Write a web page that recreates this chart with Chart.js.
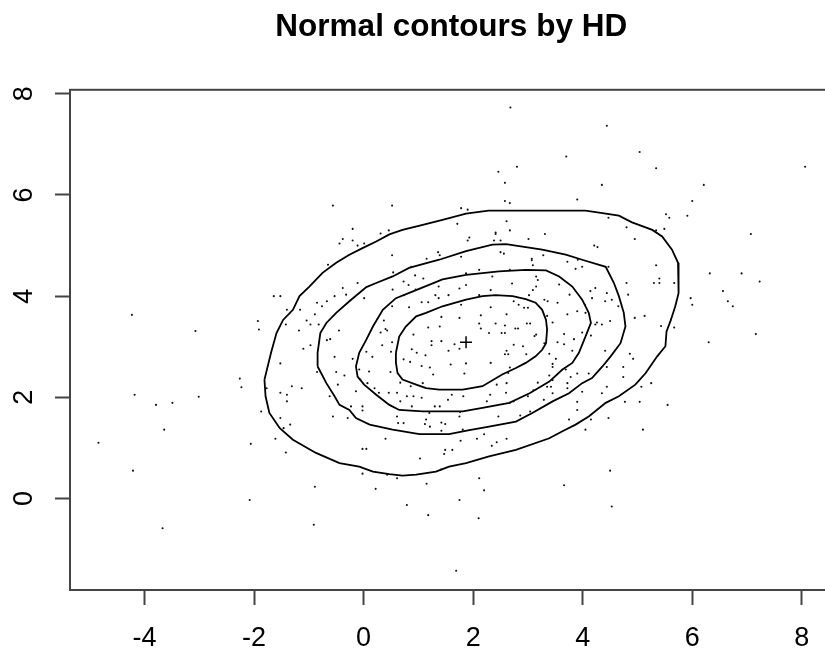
<!DOCTYPE html>
<html>
<head>
<meta charset="utf-8">
<script src="https://cdn.jsdelivr.net/npm/chart.js@4"></script>
<style>
  html, body { margin: 0; padding: 0; background: #fff; overflow: hidden; }
  #wrap { width: 840px; height: 653px; }
</style>
</head>
<body>
<div id="wrap"><canvas id="hd_chart" width="840" height="653"></canvas></div>
<script>
// sample points
const ptX = [
  -4.23, -3.07, -1.93, -1.91, -2.26, -2.23, -4.18, -3.79, -3.49, -3.01, -3.64, -4.84, -2.06, -4.21, -2.08, -3.67,
  -0.89, 0.22, 1.15, 2.20, 3.66, 0.79, 1.75, 1.18, 2.10, 4.53, -0.91, 1.69,
  2.68, 3.70, 2.80, 2.46,
  4.44, 5.04, 5.34, 8.06, 4.35, 6.21, 6.00, 5.52, 5.58, 5.91, 4.47, 4.80, 4.95, 5.34, 5.49, 7.07, 4.50,
  3.72, 3.99, 3.87, 3.91, 4.47, 5.34, 5.40, 5.30, 5.40, 5.67, 6.32, 6.90, 7.23, 6.56, 6.65, 6.74, 5.97, 6.00,
  7.16, 6.30, 4.80, 4.83, 4.95, 5.13, 5.43, 5.61, 5.67, 3.57, 3.76, 4.14, 4.23, 4.17, 4.44, 4.41, 4.53, 4.65,
  3.30, 3.36, 3.54, 4.04, 3.90, 3.72, 4.05, 3.35, 3.45, 4.26, 4.23, 4.35, 4.50, 3.66, 3.99, 4.15, 3.84, 3.54,
  3.66, 3.81, 3.39, 3.51, 3.45, 3.45, 4.41, 4.86, 4.92, 4.44, 4.74, 4.11, 3.90, 3.78, 3.39, 4.74, 3.72, 3.72,
  3.45, 3.35, 3.42, 3.45, 3.29, 3.99, 4.35, 4.44, 5.07, 5.25, 3.90, 3.90, 4.77, 5.04, 5.55, 3.75, 4.15, 4.47,
  4.05, 5.10,
  2.58, 2.58, 2.67, 3.90, 1.78, 1.90, 2.61, 1.71, 2.41, 2.41, 2.67, 3.31, 1.93, 1.90, 3.01, 2.38, 2.50, 4.21,
  4.27, 1.36, 1.39, 1.78, 2.50, 2.56, 3.28, 1.15, 3.07, 3.07, 3.09, 0.87, 2.11, 2.67, 0.73, 0.94, 1.09, 1.87,
  2.35, 3.15, 3.18, 3.15, 3.09, 0.82, 0.95, 1.37, 1.75, 1.87, 2.32, 2.71, 3.02, 1.31, 1.37, 1.55, 2.11, 0.74,
  0.83, 1.06, 1.18, 1.78, 2.32, 2.74, 2.83, 2.93, 3.00, 2.14, 1.42, 1.75, 2.61, 2.11, 2.41, 2.58, 2.98, 3.04,
  1.39, 1.18, 2.14, 2.77, 2.82, 0.91, 2.29, 2.52, 2.58, 3.15, 3.12, 1.24, 1.24, 1.42, 1.66, 2.74, 2.91, 3.30,
  0.88, 0.97, 1.13, 1.55, 1.75, 2.61, 2.58, 2.64, 2.97, 0.73, 0.85, 1.06, 1.21, 1.59, 1.87, 2.32, 2.67, 3.69,
  1.27, 1.84, 2.64,
  -0.56, 0.52, -0.20, 0.31, 0.46, -0.38, -0.44, -0.20, -0.11, 0.01, 0.52, -0.65, -0.11, -0.38, -0.32, -0.53,
  0.01, 0.53, 0.54, -1.64, -1.52, -1.40, -1.16, -0.85, -0.76, -0.67, -0.89, -1.04, -0.97, -0.82, -1.42, -1.18,
  -0.45, 0.52, 0.37, 0.40, 0.43, 0.31, -0.61, -0.67, -0.97, -1.10, -1.52, -0.53, -0.20, 0.05, 0.16, 0.34,
  0.50, 0.52, -0.08, 0.10, 0.49, -0.85, -0.50, -0.35,
  -1.77, -1.52, -1.40, -1.40, -1.31, -1.13, -1.87, -1.52, -1.34, -1.46, -1.61, -1.42, -0.62, -0.47, -0.56, -0.29,
  -0.23, -0.02, -0.02, -0.14, -0.06, -0.02, 0.05, -0.02, 0.07, 0.20, 0.28, 0.46, 0.61, 0.40, 0.43, 0.61,
  0.61, 0.63, 0.73, 0.67, 0.79, 0.91, 0.88, 1.06, 1.03, 1.14, 1.12, 1.21, 1.42, 1.49, 1.42, 1.20,
  1.30, 1.39, 1.54, 1.61, 1.49, 1.62, 1.47, 1.41, 1.75, 1.76, 1.77, 2.07, 2.11, 2.20, 2.34, 2.43,
  2.46, 2.25, 2.31, 2.43, 2.60, 2.67, 2.74, 2.61, 2.61, 3.04, 2.86, 3.00, 3.10, 3.18, 1.81, 1.82,
  0.86, 0.67, 1.08
];
const ptY = [
  3.63, 3.31, 3.51, 3.34, 2.37, 2.20, 2.05, 1.85, 1.89, 2.01, 1.36, 1.10, 1.08, 0.55, -0.03, -0.59,
  0.23, 0.19, 0.29, 0.16, 0.26, -0.13, -0.03, -0.33, -0.39, -0.16, -0.52, -1.43,
  7.73, 6.76, 6.56, 6.46,
  7.37, 6.85, 6.53, 6.56, 6.20, 6.20, 5.88, 5.62, 5.55, 5.59, 5.55, 5.36, 5.13, 5.30, 5.33, 5.23, 0.55,
  4.68, 4.58, 4.54, 4.72, 4.58, 4.61, 4.35, 4.26, 4.26, 4.26, 4.45, 4.45, 4.29, 4.10, 3.90, 3.80, 3.96, 3.83,
  3.25, 3.09, 4.26, 4.03, 3.57, 3.61, 3.41, 3.54, 3.38, 4.23, 4.03, 4.10, 4.16, 3.96, 4.06, 3.90, 3.93, 3.80,
  3.93, 3.90, 3.87, 3.83, 3.70, 3.64, 3.67, 3.61, 3.48, 3.48, 3.44, 3.44, 3.51, 3.25, 3.28, 3.22, 3.15, 3.09,
  3.05, 2.92, 2.86, 2.76, 2.66, 2.60, 2.92, 2.86, 2.76, 2.60, 2.60, 2.47, 2.47, 2.40, 2.43, 2.40, 2.28, 2.18,
  2.34, 2.21, 2.21, 2.08, 1.95, 2.11, 2.08, 2.21, 2.21, 2.28, 1.91, 1.75, 1.91, 1.91, 1.85, 1.56, 1.56, 1.59,
  1.36, 1.36,
  6.24, 5.88, 5.84, 5.91, 5.74, 5.71, 5.48, 5.43, 5.26, 5.23, 5.30, 5.23, 5.16, 5.10, 5.13, 5.10, 5.10, 5.00,
  4.97, 4.87, 4.81, 4.78, 4.87, 4.84, 4.81, 4.74, 4.74, 4.71, 4.61, 4.58, 4.52, 4.52, 4.29, 4.41, 4.35, 4.45,
  4.39, 4.39, 4.32, 4.19, 4.12, 4.22, 4.13, 4.19, 4.15, 4.22, 4.12, 4.25, 4.02, 4.02, 3.96, 4.02, 4.02, 4.02,
  3.78, 3.88, 3.88, 3.83, 3.78, 3.90, 3.83, 3.77, 3.77, 3.62, 3.59, 3.57, 3.64, 3.46, 3.46, 3.42, 3.46, 3.46,
  3.40, 3.38, 3.36, 3.36, 3.36, 3.24, 3.27, 3.27, 3.27, 3.24, 3.21, 3.11, 3.03, 3.11, 3.05, 3.04, 3.01, 3.07,
  2.95, 2.88, 2.83, 2.92, 2.96, 2.92, 2.85, 2.85, 2.85, 2.75, 2.70, 2.62, 2.59, 2.65, 2.67, 2.68, 2.59, 2.55,
  2.45, 2.47, 2.48,
  5.79, 5.79, 5.33, 5.24, 5.30, 5.13, 5.04, 5.10, 5.00, 5.04, 4.81, 4.62, 4.26, 4.16, 4.03, 4.00,
  3.96, 4.13, 4.47, 4.00, 4.00, 3.73, 3.73, 3.87, 3.80, 3.90, 3.64, 3.52, 3.44, 3.44, 3.44, 3.32,
  3.32, 3.80, 3.52, 3.35, 3.32, 3.28, 3.15, 3.13, 3.03, 2.96, 2.67, 2.80, 2.76, 2.90, 2.80, 3.03,
  2.90, 3.09, 2.55, 2.51, 2.50, 2.50, 2.50, 2.43,
  2.18, 2.09, 2.05, 1.92, 2.22, 2.18, 1.72, 1.59, 1.46, 1.39, 1.18, 0.91, 2.02, 2.25, 1.62, 1.59,
  1.82, 1.82, 1.74, 2.12, 2.35, 0.98, 0.98, 0.49, 2.28, 2.18, 2.09, 2.09, 2.09, 1.18, 0.47, 0.40,
  1.62, 1.49, 1.49, 1.92, 2.02, 2.02, 1.82, 1.99, 0.79, 1.56, 1.47, 1.42, 1.50, 1.47, 1.34, 1.69,
  1.82, 1.82, 1.95, 2.05, 0.96, 0.96, 0.88, 0.57, 1.62, 1.71, 1.14, 1.18, 0.40, 1.27, 1.04, 1.11,
  1.62, 1.92, 2.05, 2.25, 2.09, 1.89, 1.92, 2.28, 1.18, 1.72, 1.64, 2.02, 2.14, 2.29, 1.36, 2.02,
  2.22, 2.29, 2.28
];

// density contour lines, innermost first
const c1x = [0.59, 0.65, 0.77, 0.96, 1.14, 1.44, 1.87, 2.17, 2.41, 2.72, 2.96, 3.14, 3.26, 3.33, 3.35, 3.33,
  3.26, 3.14, 2.96, 2.78, 2.53, 2.17, 1.81, 1.38, 1.14, 0.96, 0.71, 0.62, 0.59];
const c1y = [2.88, 3.20, 3.40, 3.60, 3.67, 3.80, 3.93, 4.00, 4.02, 4.00, 3.94, 3.87, 3.73, 3.53, 3.34, 3.07,
  2.94, 2.81, 2.68, 2.58, 2.45, 2.22, 2.15, 2.15, 2.18, 2.25, 2.35, 2.48, 2.68];

const c2x = [-0.14, -0.08, 0.05, 0.17, 0.35, 0.59, 0.89, 1.44, 1.87, 2.47, 2.96, 3.33, 3.57, 3.81, 3.99, 4.11,
  4.15, 4.05, 3.93, 3.81, 3.63, 3.39, 3.03, 2.66, 2.17, 1.81, 1.08, 0.65, 0.47, 0.23, 0.01, -0.11];
const c2y = [2.61, 2.88, 3.14, 3.40, 3.73, 3.96, 4.09, 4.33, 4.42, 4.49, 4.52, 4.51, 4.39, 4.19, 3.93, 3.67,
  3.47, 3.20, 2.88, 2.68, 2.55, 2.31, 2.08, 1.89, 1.79, 1.72, 1.72, 1.75, 1.85, 2.05, 2.25, 2.41];

const c3x = [-0.84, -0.84, -0.79, -0.68, -0.50, -0.26, 0.05, 0.23, 0.53, 0.83, 1.38, 1.87, 2.35, 2.60, 2.90,
  3.26, 3.69, 3.99, 4.42, 4.57, 4.66, 4.75, 4.78, 4.69, 4.51, 4.36, 4.17, 3.99, 3.75, 3.45, 3.08, 2.78,
  2.29, 1.93, 1.56, 1.02, 0.53, 0.11, -0.14, -0.26, -0.44, -0.53, -0.68, -0.81];
const c3y = [2.61, 2.88, 3.27, 3.47, 3.67, 3.90, 4.18, 4.26, 4.39, 4.56, 4.72, 4.89, 5.02, 5.03, 4.98,
  4.92, 4.82, 4.72, 4.58, 4.26, 4.00, 3.67, 3.40, 3.07, 2.81, 2.61, 2.38, 2.28, 2.08, 1.92, 1.69, 1.52,
  1.42, 1.35, 1.27, 1.27, 1.36, 1.46, 1.59, 1.75, 1.85, 2.02, 2.28, 2.55];

const c4x = [-1.81, -1.69, -1.59, -1.47, -1.29, -1.17, -0.99, -0.75, -0.50, -0.26, -0.02, 0.23, 0.47, 0.71,
  1.08, 1.44, 1.87, 2.28, 4.05, 4.30, 4.66, 4.90, 5.27, 5.45, 5.63, 5.74, 5.75, 5.69, 5.60, 5.53, 5.51,
  5.36, 5.15, 4.96, 4.66, 4.42, 4.11, 3.87, 3.63, 3.39, 2.78, 2.29, 1.87, 1.56, 1.32, 0.96, 0.71, 0.47,
  0.17, -0.08, -0.44, -0.87, -1.29, -1.53, -1.72, -1.79];
const c4y = [2.35, 2.88, 3.27, 3.53, 3.73, 4.00, 4.19, 4.46, 4.66, 4.82, 4.95, 5.08, 5.22, 5.31,
  5.41, 5.51, 5.63, 5.69, 5.69, 5.65, 5.59, 5.46, 5.31, 5.18, 4.92, 4.66, 4.06, 3.80, 3.50, 3.30, 3.01,
  2.81, 2.48, 2.25, 2.02, 1.89, 1.62, 1.46, 1.33, 1.19, 0.96, 0.83, 0.70, 0.63, 0.53, 0.47, 0.45, 0.48,
  0.53, 0.63, 0.70, 0.90, 1.16, 1.39, 1.69, 2.02];

// location marker
const centerX = [1.87];
const centerY = [3.09];

const xTicks = [-4, -2, 0, 2, 4, 6, 8];
const yTicks = [0, 2, 4, 6, 8];

function toPoints(xs, ys) {
  return xs.map((x, i) => ({ x: x, y: ys[i] }));
}
function closedRing(xs, ys) {
  const pts = toPoints(xs, ys);
  pts.push(pts[0]);
  return pts;
}

const contourStyle = {
  type: 'scatter',
  showLine: true,
  borderColor: '#000',
  borderWidth: 1.8,
  pointRadius: 0,
  fill: false,
  tension: 0
};

// box around the plot region
const frame = {
  id: 'frame',
  afterDraw(chart) {
    const a = chart.chartArea;
    const ctx = chart.ctx;
    ctx.save();
    ctx.strokeStyle = '#444';
    ctx.lineWidth = 2;
    ctx.strokeRect(a.left, a.top, a.right - a.left, a.bottom - a.top);
    ctx.restore();
  }
};

const tickFont = { family: 'Liberation Sans', size: 27 };

const hd_ctx = document.getElementById('hd_chart');
const hd_chart = new Chart(hd_ctx, {
  type: 'scatter',
  data: {
    datasets: [
      {
        data: toPoints(ptX, ptY),
        pointStyle: 'circle',
        pointRadius: 1.05,
        backgroundColor: '#111',
        borderWidth: 0
      },
      Object.assign({ data: closedRing(c1x, c1y) }, contourStyle),
      Object.assign({ data: closedRing(c2x, c2y) }, contourStyle),
      Object.assign({ data: closedRing(c3x, c3y) }, contourStyle),
      Object.assign({ data: closedRing(c4x, c4y) }, contourStyle),
      {
        data: toPoints(centerX, centerY),
        pointStyle: 'cross',
        pointRadius: 6,
        borderColor: '#000',
        borderWidth: 1.5
      }
    ]
  },
  options: {
    responsive: false,
    animation: false,
    layout: { padding: { left: 0, right: 6, top: 0, bottom: 0 } },
    plugins: {
      legend: { display: false },
      tooltip: { enabled: false },
      title: {
        display: true,
        text: 'Normal contours by HD',
        fullSize: false,
        color: '#000',
        font: { family: 'Liberation Sans', size: 31.5, weight: 'bold' },
        padding: { top: 8, bottom: 44 }
      }
    },
    scales: {
      x: {
        type: 'linear',
        min: -5.36,
        max: 8.56,
        afterBuildTicks: s => { s.ticks = xTicks.map(v => ({ value: v })); },
        afterFit: s => { s.height = 63; },
        border: { display: false },
        grid: { drawOnChartArea: false, drawTicks: true, tickLength: 15, tickWidth: 2, tickColor: '#444' },
        ticks: { color: '#000', font: tickFont, padding: 17, maxRotation: 0 }
      },
      y: {
        type: 'linear',
        min: -1.81,
        max: 8.08,
        afterBuildTicks: s => { s.ticks = yTicks.map(v => ({ value: v })); },
        afterFit: s => { s.width = 70; },
        border: { display: false },
        grid: { drawOnChartArea: false, drawTicks: true, tickLength: 15, tickWidth: 2, tickColor: '#444' },
        ticks: { color: '#000', font: tickFont, padding: 23, minRotation: 90, maxRotation: 90, crossAlign: 'center' }
      }
    }
  },
  plugins: [frame]
});
</script>
</body>
</html>
